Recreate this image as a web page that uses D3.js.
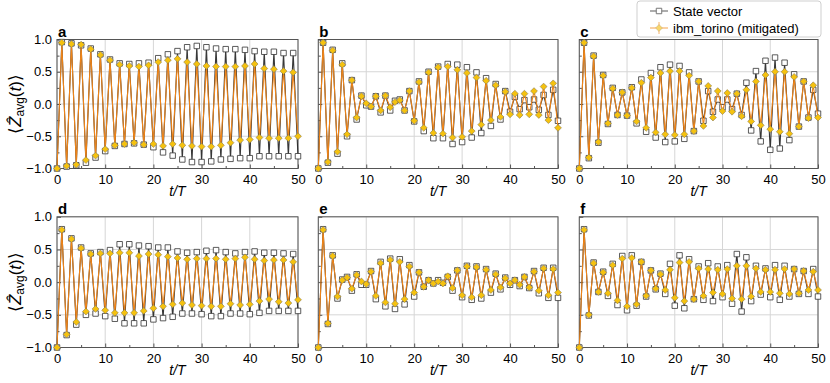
<!DOCTYPE html>
<html>
<head>
<meta charset="utf-8">
<script src="https://cdn.jsdelivr.net/npm/d3@7"></script>
<style>
  body { margin: 0; background: #fff; }
  svg { display: block; font-family: "Liberation Sans", Arial, sans-serif; }
</style>
</head>
<body>
<div id="container"></div>
<script>
var W = 830, H = 383;

// time steps t/T = 0..50
var steps = d3.range(0, 51);
var panelLabels = ["a", "b", "c", "d", "e", "f"];
var xTicks = [0, 10, 20, 30, 40, 50];
var yTicks = [-1.0, -0.5, 0.0, 0.5, 1.0];
var seriesNames = ["State vector", "ibm_torino (mitigated)"];

// state vector (exact) per panel
var svA = [-1.0,0.96,-0.97,0.94,-0.95,0.91,-0.91,0.86,-0.83,0.77,-0.73,0.69,-0.65,0.63,-0.62,0.62,-0.61,0.63,-0.63,0.64,-0.67,0.71,-0.75,0.77,-0.80,0.82,-0.86,0.88,-0.90,0.90,-0.90,0.88,-0.89,0.86,-0.86,0.85,-0.85,0.85,-0.84,0.84,-0.84,0.82,-0.81,0.81,-0.81,0.81,-0.81,0.79,-0.81,0.79,-0.81];
var svB = [-1.0,0.95,-0.91,0.84,-0.77,0.63,-0.50,0.37,-0.24,0.13,-0.02,-0.04,0.12,-0.13,0.13,-0.10,0.05,0.07,-0.10,0.20,-0.27,0.35,-0.42,0.50,-0.53,0.58,-0.53,0.62,-0.62,0.61,-0.59,0.57,-0.52,0.49,-0.45,0.40,-0.34,0.31,-0.24,0.20,-0.12,0.11,-0.08,0.06,-0.05,0.07,-0.09,0.14,-0.17,0.22,-0.26];
var svC = [-1.0,0.95,-0.84,0.75,-0.60,0.45,-0.31,0.25,-0.17,0.18,-0.18,0.26,-0.30,0.38,-0.43,0.48,-0.52,0.57,-0.59,0.61,-0.58,0.59,-0.54,0.49,-0.42,0.35,-0.26,0.20,-0.12,0.07,-0.05,0.07,-0.08,0.16,-0.17,0.33,-0.41,0.51,-0.58,0.67,-0.71,0.72,-0.69,0.64,-0.56,0.46,-0.35,0.35,-0.21,0.22,-0.15];
var svD = [-1.0,0.81,-0.81,0.67,-0.65,0.53,-0.50,0.44,-0.48,0.46,-0.52,0.49,-0.56,0.58,-0.63,0.58,-0.63,0.56,-0.63,0.55,-0.57,0.53,-0.55,0.53,-0.53,0.47,-0.48,0.45,-0.48,0.46,-0.49,0.48,-0.52,0.49,-0.52,0.46,-0.48,0.44,-0.48,0.46,-0.49,0.47,-0.47,0.45,-0.44,0.45,-0.44,0.44,-0.44,0.43,-0.44];
var svE = [-1.0,0.81,-0.64,0.41,-0.25,0.04,0.08,-0.13,0.12,-0.04,-0.04,0.17,-0.26,0.31,-0.37,0.36,-0.41,0.35,-0.34,0.26,-0.22,0.15,-0.07,0.03,-0.02,0.03,-0.01,0.08,-0.13,0.18,-0.23,0.25,-0.27,0.24,-0.25,0.20,-0.16,0.13,-0.11,0.07,-0.04,0.03,-0.06,0.08,-0.09,0.17,-0.17,0.22,-0.24,0.22,-0.24];
var svF = [-1.0,0.81,-0.51,0.30,-0.15,0.16,-0.21,0.28,-0.35,0.40,-0.43,0.41,-0.36,0.31,-0.22,0.18,-0.11,0.13,-0.18,0.28,-0.36,0.41,-0.40,0.35,-0.26,0.24,-0.27,0.29,-0.29,0.24,-0.23,0.26,-0.33,0.43,-0.45,0.38,-0.29,0.25,-0.19,0.21,-0.23,0.26,-0.27,0.25,-0.22,0.20,-0.18,0.17,-0.18,0.20,-0.22];

// ibm_torino (mitigated) per panel
var hwA = [-1.0,0.95,-0.96,0.93,-0.94,0.92,-0.87,0.85,-0.80,0.76,-0.70,0.68,-0.64,0.61,-0.62,0.59,-0.60,0.58,-0.63,0.60,-0.62,0.65,-0.65,0.68,-0.62,0.70,-0.64,0.65,-0.65,0.62,-0.66,0.59,-0.66,0.58,-0.64,0.58,-0.60,0.58,-0.56,0.59,-0.55,0.62,-0.52,0.55,-0.53,0.54,-0.53,0.51,-0.53,0.49,-0.50];
var hwB = [-1.0,0.95,-0.90,0.83,-0.74,0.61,-0.47,0.37,-0.21,0.12,0.01,-0.04,0.12,-0.10,0.13,-0.05,0.03,0.06,-0.10,0.20,-0.26,0.34,-0.37,0.49,-0.45,0.57,-0.46,0.58,-0.52,0.53,-0.51,0.48,-0.42,0.41,-0.32,0.36,-0.25,0.29,-0.20,0.19,-0.16,0.16,-0.17,0.16,-0.16,0.20,-0.17,0.27,-0.25,0.32,-0.37];
var hwC = [-1.0,0.95,-0.83,0.74,-0.59,0.44,-0.30,0.24,-0.17,0.18,-0.18,0.25,-0.27,0.33,-0.37,0.41,-0.44,0.48,-0.47,0.51,-0.48,0.51,-0.47,0.44,-0.42,0.35,-0.34,0.28,-0.21,0.20,-0.11,0.17,-0.12,0.16,-0.19,0.22,-0.27,0.35,-0.33,0.45,-0.39,0.50,-0.43,0.50,-0.46,0.42,-0.35,0.35,-0.22,0.29,-0.21];
var hwD = [-1.0,0.80,-0.80,0.66,-0.61,0.52,-0.45,0.43,-0.41,0.44,-0.43,0.44,-0.47,0.45,-0.47,0.45,-0.47,0.40,-0.44,0.43,-0.40,0.42,-0.37,0.39,-0.34,0.37,-0.32,0.35,-0.35,0.36,-0.36,0.36,-0.37,0.36,-0.37,0.35,-0.33,0.36,-0.35,0.38,-0.34,0.35,-0.29,0.33,-0.26,0.34,-0.30,0.34,-0.32,0.31,-0.27];
var hwE = [-1.0,0.80,-0.63,0.40,-0.22,0.03,0.07,-0.10,0.11,0.01,-0.03,0.16,-0.21,0.29,-0.31,0.34,-0.33,0.31,-0.26,0.24,-0.16,0.15,-0.07,0.03,-0.02,0.01,-0.02,0.09,-0.09,0.18,-0.20,0.24,-0.23,0.23,-0.20,0.19,-0.12,0.12,-0.08,0.06,-0.02,0.03,-0.04,0.08,-0.08,0.16,-0.13,0.21,-0.20,0.20,-0.16];
var hwF = [-1.0,0.80,-0.50,0.29,-0.15,0.15,-0.17,0.26,-0.28,0.36,-0.37,0.37,-0.34,0.31,-0.21,0.18,-0.10,0.12,-0.12,0.19,-0.24,0.30,-0.29,0.31,-0.26,0.21,-0.21,0.20,-0.16,0.19,-0.18,0.20,-0.25,0.25,-0.26,0.25,-0.22,0.21,-0.15,0.19,-0.15,0.19,-0.17,0.20,-0.18,0.20,-0.17,0.17,-0.12,0.16,-0.12];

var svAll = [svA, svB, svC, svD, svE, svF];
var hwAll = [hwA, hwB, hwC, hwD, hwE, hwF];

var colLeft = [57, 318.3, 579.3];
var colRight = [298, 558, 818];
var rowTop = [39.5, 216.8];
var rowBottom = [168.5, 347.5];

var svColor = "#222", hwLine = "#ee8418", hwFill = "#f5c20f";

var svg = d3.select("#container").append("svg")
    .attr("width", W)
    .attr("height", H);

svg.append("rect").attr("width", W).attr("height", H).attr("fill", "#fff");

var squareSym = d3.symbol().type(d3.symbolSquare).size(30);
var diamondSym = d3.symbol().type(d3.symbolDiamond2).size(30);

panelLabels.forEach(function(lab, i) {
	var r = Math.floor(i / 3), c = i % 3;
	var x = d3.scaleLinear().domain([0, 50]).range([colLeft[c], colRight[c]]);
	var y = d3.scaleLinear().domain([-1, 1]).range([rowBottom[r], rowTop[r]]);
	var g = svg.append("g").attr("class", "panel");

	// grid
	g.selectAll(".gx").data(xTicks).enter().append("line")
		.attr("x1", function(d) { return x(d); }).attr("x2", function(d) { return x(d); })
		.attr("y1", y(-1)).attr("y2", y(1))
		.attr("stroke", "#d6d6d6").attr("stroke-width", 1);
	g.selectAll(".gy").data(yTicks).enter().append("line")
		.attr("y1", function(d) { return y(d); }).attr("y2", function(d) { return y(d); })
		.attr("x1", x(0)).attr("x2", x(50))
		.attr("stroke", "#d6d6d6").attr("stroke-width", 1);

	// axes (ticks inside, no domain path)
	var xAxis = d3.axisBottom(x).tickValues(xTicks).tickSize(-4).tickPadding(6).tickFormat(d3.format("d"));
	var xMinor = d3.axisBottom(x).tickValues(d3.range(5, 50, 10)).tickSize(-2.5).tickFormat("");
	var yAxis = d3.axisLeft(y).tickValues(yTicks).tickSize(-4).tickPadding(5)
		.tickFormat(c === 0 ? function(d) { return d3.format(".1f")(d).replace("-", "\u2212"); } : "");
	var yMinor = d3.axisLeft(y).tickValues([-0.75, -0.25, 0.25, 0.75]).tickSize(-2.5).tickFormat("");

	[[xAxis, "translate(0," + y(-1) + ")"], [xMinor, "translate(0," + y(-1) + ")"],
	 [yAxis, "translate(" + x(0) + ",0)"], [yMinor, "translate(" + x(0) + ",0)"]].forEach(function(a) {
		var ag = g.append("g").attr("transform", a[1]).call(a[0]);
		ag.select(".domain").remove();
		ag.selectAll("line").attr("stroke", "#555");
		ag.selectAll("text").attr("font-size", 13).attr("fill", "#000")
			.style("font-family", "'Liberation Sans', Arial, sans-serif");
	});

	// frame
	g.append("rect")
		.attr("x", x(0)).attr("y", y(1))
		.attr("width", x(50) - x(0)).attr("height", y(-1) - y(1))
		.attr("fill", "none").attr("stroke", "#555").attr("stroke-width", 1);

	var line = d3.line()
		.x(function(d, k) { return x(steps[k]); })
		.y(function(d) { return y(d); });

	// state vector
	g.append("path").datum(svAll[i])
		.attr("d", line).attr("fill", "none")
		.attr("stroke", svColor).attr("stroke-width", 1.1).attr("stroke-opacity", 0.9);
	g.selectAll(".sv").data(svAll[i]).enter().append("path")
		.attr("d", squareSym)
		.attr("transform", function(d, k) { return "translate(" + x(steps[k]) + "," + y(d) + ")"; })
		.attr("fill", "#fff").attr("stroke", "#333").attr("stroke-opacity", 0.8).attr("stroke-width", 1);

	// hardware
	g.append("path").datum(hwAll[i])
		.attr("d", line).attr("fill", "none")
		.attr("stroke", hwLine).attr("stroke-width", 1.1);
	g.selectAll(".hw").data(hwAll[i]).enter().append("path")
		.attr("d", diamondSym)
		.attr("transform", function(d, k) { return "translate(" + x(steps[k]) + "," + y(d) + ")"; })
		.attr("fill", hwFill).attr("stroke", "#8a7a50").attr("stroke-width", 0.6);

	// panel letter
	g.append("text").attr("x", x(0) + 1).attr("y", y(1) - 3)
		.attr("font-size", 15).attr("font-weight", "bold").text(lab);

	// x label
	g.append("text").attr("x", (x(0) + x(50)) / 2).attr("y", y(-1) + 27)
		.attr("text-anchor", "middle").attr("font-size", 14).attr("font-style", "italic")
		.text("t/T");

	// y label
	if (c === 0) {
		var yl = g.append("text")
			.attr("transform", "translate(21," + (y(0)) + ") rotate(-90)")
			.attr("text-anchor", "middle").attr("font-size", 17);
		yl.append("tspan").text("\u27E8");
		yl.append("tspan").attr("font-style", "italic").text("Z\u0302");
		yl.append("tspan").attr("font-size", 12).attr("dy", 3).text("avg");
		yl.append("tspan").attr("dy", -3).text("(");
		yl.append("tspan").attr("font-style", "italic").text("t");
		yl.append("tspan").text(")\u27E9");
	}
});

// legend
var lg = svg.append("g").attr("transform", "translate(637,1)");
lg.append("rect").attr("width", 184).attr("height", 36).attr("rx", 3)
	.attr("fill", "#fff").attr("fill-opacity", 0.9).attr("stroke", "#cfcfcf");
var ly = [10, 27];
lg.append("line").attr("x1", 13).attr("x2", 31).attr("y1", ly[0]).attr("y2", ly[0])
	.attr("stroke", "#777").attr("stroke-width", 1.2);
lg.append("path").attr("d", squareSym).attr("transform", "translate(22," + ly[0] + ")")
	.attr("fill", "#fff").attr("stroke", "#777");
lg.append("line").attr("x1", 13).attr("x2", 31).attr("y1", ly[1]).attr("y2", ly[1])
	.attr("stroke", "#f7b26a").attr("stroke-width", 1.2);
lg.append("line").attr("x1", 22).attr("x2", 22).attr("y1", ly[1] - 6).attr("y2", ly[1] + 6)
	.attr("stroke", "#f7b26a").attr("stroke-width", 1);
lg.append("path").attr("d", diamondSym).attr("transform", "translate(22," + ly[1] + ")")
	.attr("fill", "#f8d66a").attr("stroke", "#c9b27a").attr("stroke-width", 0.6);
lg.selectAll(".lt").data(seriesNames).enter().append("text")
	.attr("x", 36).attr("y", function(d, k) { return ly[k] + 4.5; })
	.attr("font-size", 13).text(function(d) { return d; });
</script>
</body>
</html>
